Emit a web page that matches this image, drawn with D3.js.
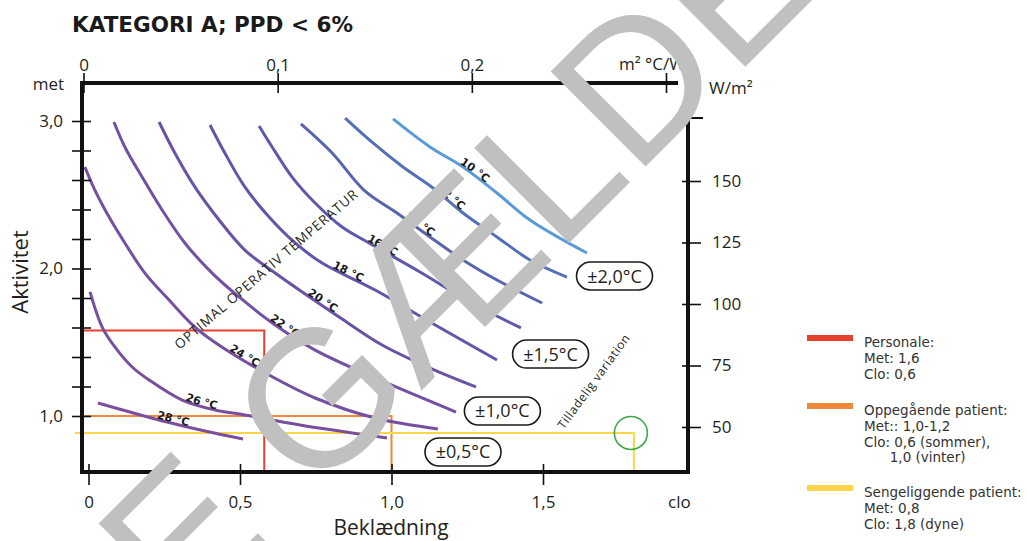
<!DOCTYPE html>
<html><head><meta charset="utf-8">
<script src="https://cdn.jsdelivr.net/npm/d3@7/dist/d3.min.js"></script>
<style>body{margin:0;background:#fff}svg{display:block}</style>
</head><body><svg id="c" width="1027" height="541"></svg>
<script>
// ---- data (clo, met) ----
const temps = [28, 26, 24, 22, 20, 18, 16, 14, 12, 10];
const curve28 = [[0.031,1.088],[0.137,1.027],[0.259,0.959],[0.384,0.898],[0.510,0.844]];
const curve26 = [[0.005,1.841],[0.045,1.603],[0.087,1.468],[0.144,1.332],[0.200,1.244],[0.309,1.108],[0.417,1.041],[0.516,1.007],[0.698,0.939],[0.985,0.851]];
const curve24 = [[-0.012,2.688],[0.021,2.532],[0.068,2.349],[0.120,2.173],[0.186,1.969],[0.266,1.786],[0.351,1.603],[0.440,1.468],[0.596,1.278],[0.748,1.122],[0.946,0.986],[1.153,0.912]];
const curve22 = [[0.084,2.993],[0.120,2.824],[0.177,2.620],[0.243,2.397],[0.318,2.173],[0.408,1.969],[0.497,1.807],[0.616,1.617],[0.748,1.447],[0.946,1.258],[1.213,1.027]];
const curve20 = [[0.233,2.993],[0.285,2.783],[0.351,2.553],[0.431,2.329],[0.516,2.125],[0.616,1.969],[0.827,1.671],[0.969,1.481],[1.127,1.325],[1.279,1.197]];
const curve18 = [[0.401,2.973],[0.450,2.783],[0.516,2.553],[0.596,2.349],[0.682,2.173],[0.771,2.037],[0.946,1.854],[1.127,1.637],[1.348,1.380]];
const curve16 = [[0.563,2.966],[0.606,2.824],[0.672,2.620],[0.748,2.444],[0.837,2.281],[0.926,2.173],[1.094,1.976],[1.259,1.773],[1.427,1.597]];
const curve14 = [[0.701,2.980],[0.804,2.783],[0.909,2.532],[1.018,2.376],[1.127,2.214],[1.236,2.058],[1.348,1.922],[1.497,1.766]];
const curve12 = [[0.847,3.020],[0.939,2.851],[1.038,2.688],[1.137,2.546],[1.236,2.376],[1.348,2.214],[1.457,2.058],[1.579,1.942]];
const curve10 = [[1.005,3.014],[1.127,2.824],[1.236,2.688],[1.348,2.512],[1.457,2.329],[1.645,2.105]];
const curves = [curve28, curve26, curve24, curve22, curve20, curve18, curve16, curve14, curve12, curve10];
const labelClo = [0.276, 0.368, 0.507, 0.639, 0.764, 0.850, 0.962, 1.084, 1.186, 1.266];

const metTicks = [1.0,1.2,1.4,1.6,1.8,2.0,2.2,2.4,2.6,2.8,3.0];
const metLabels = [1.0, 2.0, 3.0];
const cloTicks = [0, 0.5, 1.0, 1.5];
const rTicks = [0, 0.1, 0.2, 0.3];
const wTicks = [50, 75, 100, 125, 150];

const groups = ["Personale", "Oppegående patient", "Sengeliggende patient"];
const groupClo = [0.58, 1.0, 1.8];
const groupMet = [1.58, 1.0, 0.885];
const legendLines = [
  ["Personale:", "Met: 1,6", "Clo: 0,6"],
  ["Oppegående patient:", "Met:: 1,0-1,2", "Clo: 0,6 (sommer),", "      1,0 (vinter)"],
  ["Sengeliggende patient:", "Met: 0,8", "Clo: 1,8 (dyne)"]
];
const tolText = ["±2,0°C", "±1,5°C", "±1,0°C", "±0,5°C"];
const tolClo = [1.736, 1.525, 1.366, 1.236];
const tolMet = [1.949, 1.420, 1.034, 0.756];

// ---- styles ----
const curveColors = ["#7b4f9e","#784f9f","#754fa0","#7051a3","#6a52a5","#6455a8","#5e5aab","#5864b0","#5470b8","#5b9bd5"];
const groupColors = ["#e8402e", "#ef883a", "#fdd54a"];

const svg = d3.select("#c");
const X0 = 82, X1 = 688, Y0 = 83, Y1 = 472;
const x = d3.scaleLinear().domain([0, 1.5]).range([88.5, 543]);
const y = d3.scaleLinear().domain([1, 3]).range([416, 121]);
const xTop = d3.scaleLinear().domain([0, 0.3]).range([83.5, 666]);
const yR = d3.scaleLinear().domain([50, 150]).range([427, 181]);
const comma = d => d === 0 ? "0" : d3.format(".1f")(d).replace(".", ",");
const TF = "'Open Sans', sans-serif";
const ink = "#231f20";

// title
svg.append("text").attr("x", 72).attr("y", 32).attr("font-family", "DejaVu Sans").attr("font-weight", "bold")
  .attr("font-size", 21.5).attr("fill", "#1a1a1a").text("KATEGORI A; PPD < 6%");

// reference lines
groups.forEach((g, i) => {
  const gx = x(groupClo[i]), gy = y(groupMet[i]);
  const x0 = i === 2 ? 75 : X0;
  svg.append("path").attr("d", `M${x0},${gy}H${gx}V${Y1}`).attr("fill", "none")
    .attr("stroke", groupColors[i]).attr("stroke-width", 2);
});
svg.append("circle").attr("cx", x(1.79)).attr("cy", y(groupMet[2])).attr("r", 16.5)
  .attr("fill", "none").attr("stroke", "#3aa843").attr("stroke-width", 1.6);

// curves
const line = d3.line().x(d => x(d[0])).y(d => y(d[1])).curve(d3.curveCatmullRom.alpha(0.5));
curves.forEach((c, i) => {
  const p = svg.append("path").attr("id", "cv" + i).attr("d", line(c)).attr("fill", "none")
    .attr("stroke", curveColors[i]).attr("stroke-width", 3).attr("stroke-linecap", "butt");
  const node = p.node(), L = node.getTotalLength(), tx = x(labelClo[i]);
  let off = 0;
  for (let s = 0; s <= L; s += 0.5) { if (node.getPointAtLength(s).x >= tx) { off = s; break; } }
  svg.append("text").attr("font-family", "DejaVu Sans").attr("font-weight", "bold").attr("font-size", 11)
    .attr("fill", "#1a1a1a").attr("dy", -1)
    .append("textPath").attr("href", "#cv" + i).attr("startOffset", off).attr("text-anchor", "middle")
    .text(temps[i] + " °C");
});

// annotations
svg.append("text").attr("transform", "translate(269,273) rotate(-40.7)").attr("text-anchor", "middle")
  .attr("font-family", TF).attr("font-size", 13.5).attr("textLength", 236).attr("lengthAdjust", "spacing")
  .attr("fill", ink).text("OPTIMAL OPERATIV TEMPERATUR");
svg.append("text").attr("transform", "translate(597,384) rotate(-54)").attr("text-anchor", "middle")
  .attr("font-family", TF).attr("font-size", 12).attr("textLength", 113).attr("lengthAdjust", "spacing")
  .attr("fill", ink).text("Tilladelig variation");

tolText.forEach((t, i) => {
  const cx = x(tolClo[i]), cy = y(tolMet[i]);
  svg.append("rect").attr("x", cx - 38).attr("y", cy - 14).attr("width", 76).attr("height", 28).attr("rx", 14)
    .attr("fill", "#fff").attr("stroke", "#1a1a1a").attr("stroke-width", 1.6);
  svg.append("text").attr("x", cx).attr("y", cy + 6.5).attr("text-anchor", "middle")
    .attr("font-family", TF).attr("font-size", 18).attr("fill", ink).text(t);
});

// axes
const styleTicks = (g) => {
  g.select(".domain").remove();
  g.selectAll(".tick line").attr("stroke", "#111").attr("stroke-width", 1.6);
  g.selectAll(".tick text").attr("font-family", TF).attr("font-size", 17).attr("fill", ink);
};
const gL = svg.append("g").attr("transform", `translate(${X0},0)`)
  .call(d3.axisLeft(y).tickValues(metTicks).tickSize(10).tickPadding(9)
    .tickFormat(d => metLabels.some(m => Math.abs(m - d) < 1e-6) ? comma(d) : ""));
styleTicks(gL); gL.selectAll(".tick line").attr("x1", -10).attr("x2", 9);

const gB = svg.append("g").attr("transform", `translate(0,${Y1})`)
  .call(d3.axisBottom(x).tickValues(cloTicks).tickSize(13).tickFormat(comma));
styleTicks(gB); gB.selectAll(".tick line").attr("y1", -8).attr("y2", 13);
gB.selectAll(".tick text").attr("y", 36).attr("dy", 0);

const gT = svg.append("g").attr("transform", `translate(0,${Y0})`)
  .call(d3.axisTop(xTop).tickValues(rTicks).tickSize(10).tickFormat(d => d === 0.3 ? "" : comma(d)));
styleTicks(gT); gT.selectAll(".tick line").attr("y1", -10).attr("y2", 10);
gT.selectAll(".tick text").attr("y", -12).attr("dy", 0);

const gR = svg.append("g").attr("transform", `translate(${X1},0)`)
  .call(d3.axisRight(yR).tickValues(wTicks).tickSize(13).tickPadding(11));
styleTicks(gR); gR.selectAll(".tick line").attr("x1", -6).attr("x2", 13);

// frame
const frame = svg.append("g").attr("stroke", "#111").attr("stroke-width", 4).attr("fill", "none");
frame.append("line").attr("x1", X0).attr("x2", X0).attr("y1", Y0 - 2).attr("y2", Y1 + 2);
frame.append("line").attr("x1", X0 - 2).attr("x2", 678).attr("y1", Y0).attr("y2", Y0);
frame.append("line").attr("x1", X0 - 2).attr("x2", X1 + 2).attr("y1", Y1).attr("y2", Y1);
frame.append("line").attr("x1", X1).attr("x2", X1).attr("y1", 117).attr("y2", Y1 + 2);
frame.append("line").attr("x1", X1).attr("x2", 703).attr("y1", 118).attr("y2", 118).attr("stroke-width", 2);

// axis titles & units
const txt = (s, xx, yy, size, anchor) => svg.append("text").attr("x", xx).attr("y", yy)
  .attr("font-family", TF).attr("font-size", size).attr("fill", ink).attr("text-anchor", anchor || "start").text(s);
txt("met", 64, 90, 17, "end");
txt("W/m²", 709, 94, 17);
txt("m² °C/W", 619, 70, 17);
txt("clo", 668, 508, 17);
txt("Beklædning", 391, 535, 21, "middle");
svg.append("text").attr("transform", "translate(28,272) rotate(-90)").attr("text-anchor", "middle")
  .attr("font-family", TF).attr("font-size", 22).attr("fill", ink).text("Aktivitet");

// legend
const legY = [338, 406, 488];
legendLines.forEach((ls, i) => {
  svg.append("rect").attr("x", 807).attr("y", legY[i] - 3).attr("width", 46).attr("height", 6).attr("fill", groupColors[i]);
  ls.forEach((s, j) => {
    svg.append("text").attr("x", 864).attr("y", legY[i] + 9 + j * 15.8).attr("font-family", "DejaVu Sans")
      .attr("font-size", 13.5).attr("fill", "#333").style("white-space", "pre").text(s);
  });
});

// watermark
svg.append("text").attr("transform", "translate(-40,852) rotate(-45)").attr("font-family", "Liberation Sans")
  .attr("font-size", 195).attr("fill", "#c0c0c0").text("IKKE GÆLDENDE");
</script></body></html>
